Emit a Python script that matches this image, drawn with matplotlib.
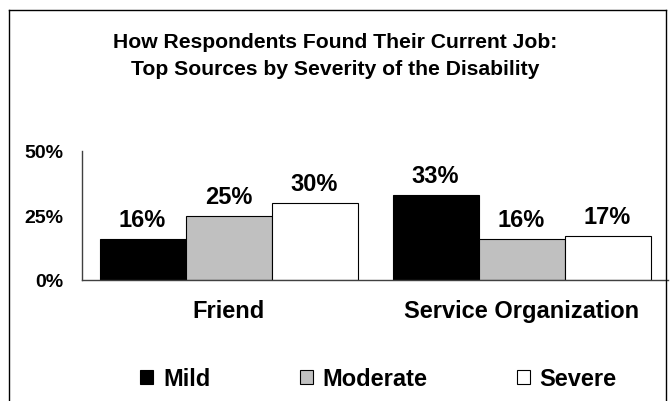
import matplotlib
matplotlib.use("Agg")
import matplotlib.pyplot as plt
import numpy as np
from matplotlib.patches import Patch
from matplotlib.lines import Line2D

categories = ["Friend", "Service Organization"]
series_names = ["Mild", "Moderate", "Severe"]
mild = [16, 33]
moderate = [25, 16]
severe = [30, 17]
yticks = [0, 25, 50]
ytick_labels = ["0%", "25%", "50%"]
title = "How Respondents Found Their Current Job:\nTop Sources by Severity of the Disability"

colors = ["#000000", "#c0c0c0", "#ffffff"]
font = "Liberation Sans"

fig = plt.figure(figsize=(6.7, 4.02), dpi=100)
fig.patch.set_facecolor("white")

# outer frame (left, top, right)
fx0, fx1, fy1 = 9 / 670, 666 / 670, 1 - 11 / 402
for xs, ys in [([fx0, fx0], [0, fy1]), ([fx0, fx1], [fy1, fy1]), ([fx1, fx1], [fy1, 0])]:
    fig.add_artist(Line2D(xs, ys, transform=fig.transFigure, color="#000000", lw=1.0))

ax = fig.add_axes([82 / 670, 1 - 281 / 402, 586 / 670, 129 / 402])
x = np.arange(len(categories))
w = 86 / 293
for i, (vals, c) in enumerate(zip([mild, moderate, severe], colors)):
    pos = x + (i - 1) * w
    bars = ax.bar(pos, vals, width=w, color=c, edgecolor="#000000", linewidth=0.8, zorder=2)
    for b, v in zip(bars, vals):
        ax.text(b.get_x() + b.get_width() / 2, v + 5.0, f"{v}%", ha="center", va="baseline",
                fontsize=17, fontweight="bold", family=font)

ax.set_xlim(-0.5, 1.5)
ax.set_ylim(0, 50)
ax.set_yticks(yticks)
ax.set_yticklabels(ytick_labels, fontsize=14, fontweight="bold", family=font)
ax.set_xticks(x)
ax.set_xticklabels(categories, fontsize=17, fontweight="bold", family=font)
ax.tick_params(axis="both", length=0)
ax.tick_params(axis="y", pad=13.5)
ax.tick_params(axis="x", pad=14)
for s in ["top", "right"]:
    ax.spines[s].set_visible(False)
for s in ["left", "bottom"]:
    ax.spines[s].set_color("#404040")
    ax.spines[s].set_linewidth(1.0)
ax.patch.set_alpha(0)

fig.text(0.5, 1 - 56 / 402, title, ha="center", va="center", fontsize=15.2,
         fontweight="bold", family=font, linespacing=1.5)

handles = [Patch(facecolor=c, edgecolor="#000000", linewidth=0.8) for c in colors]
fig.legend(handles, series_names, loc="center", bbox_to_anchor=(378.5 / 670, 1 - 380 / 402),
           ncol=3, frameon=False, handlelength=0.55, handleheight=0.55, handletextpad=0.4,
           columnspacing=3.8, borderpad=0, prop={"family": font, "weight": "bold", "size": 17})

fig.savefig("out.png", dpi=100)
